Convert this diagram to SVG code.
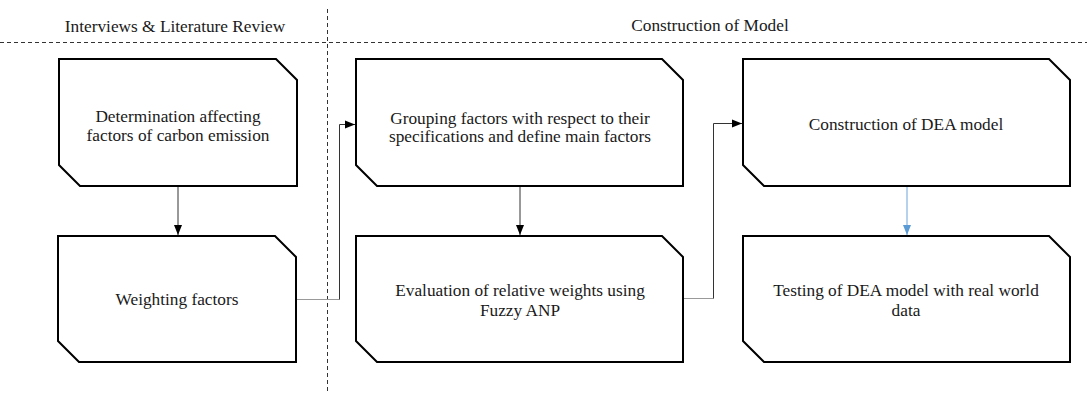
<svg xmlns="http://www.w3.org/2000/svg" width="1087" height="394" viewBox="0 0 1087 394">
<style>
.node{fill:#fff;stroke:#000;stroke-width:2;stroke-linejoin:miter}
.t{font-family:'Liberation Serif','DejaVu Serif',serif;font-size:17.3px;fill:#1a1a1a;text-anchor:middle}
.dash{stroke:#333;stroke-width:1;stroke-dasharray:4,3;fill:none}
.c{fill:none;stroke:#333;stroke-width:1}
.cg{fill:none;stroke:#999;stroke-width:1}
.cb{fill:none;stroke:#8fb8e3;stroke-width:1.3}
</style>
<defs>
<marker id="ah" markerUnits="userSpaceOnUse" markerWidth="10" markerHeight="10" viewBox="0 0 10 10" refX="10" refY="5" orient="auto">
<path d="M0,1 L10,5 L0,9 Z" fill="#000"/>
</marker>
<marker id="ahb" markerUnits="userSpaceOnUse" markerWidth="10" markerHeight="10" viewBox="0 0 10 10" refX="10" refY="5" orient="auto">
<path d="M0,1 L10,5 L0,9 Z" fill="#5b9bd5"/>
</marker>
</defs>
<g id="headers">
<line class="dash" x1="0" y1="42.5" x2="1087" y2="42.5"/>
<line class="dash" x1="327.5" y1="9" x2="327.5" y2="394"/>
<text class="t" x="175" y="32">Interviews &amp; Literature Review</text>
<text class="t" x="710" y="31">Construction of Model</text>
</g>
<g id="connectors">
<path class="c" d="M178,187 V235" marker-end="url(#ah)"/>
<path class="c" d="M520,187 V235" marker-end="url(#ah)"/>
<path class="cb" d="M907,187 V235" marker-end="url(#ahb)"/>
<path class="cg" d="M297,299.5 H339.5"/>
<path class="c" d="M339.5,299.5 V124.5 H355" marker-end="url(#ah)"/>
<path class="cg" d="M684,298.5 H713.5"/>
<path class="c" d="M713.5,298.5 V123.5 H742" marker-end="url(#ah)"/>
</g>
<g id="n1">
<path class="node" d="M59,59 H276 L297,80 V186 H80 L59,165 Z"/>
<text class="t" x="178" y="122">Determination affecting</text>
<text class="t" x="178" y="141">factors of carbon emission</text>
</g>
<g id="n2">
<path class="node" d="M58,236 H275 L296,257 V362 H79 L58,341 Z"/>
<text class="t" x="177" y="305">Weighting factors</text>
</g>
<g id="n3">
<path class="node" d="M356,59 H662 L683,80 V186 H377 L356,165 Z"/>
<text class="t" x="520" y="124">Grouping factors with respect to their</text>
<text class="t" x="520" y="142">specifications and define main factors</text>
</g>
<g id="n4">
<path class="node" d="M356,236 H662 L683,257 V362 H377 L356,341 Z"/>
<text class="t" x="520" y="296">Evaluation of relative weights using</text>
<text class="t" x="520" y="316">Fuzzy ANP</text>
</g>
<g id="n5">
<path class="node" d="M743,59 H1049 L1070,80 V186 H764 L743,165 Z"/>
<text class="t" x="906" y="130">Construction of DEA model</text>
</g>
<g id="n6">
<path class="node" d="M743,236 H1049 L1070,257 V362 H764 L743,341 Z"/>
<text class="t" x="906" y="296">Testing of DEA model with real world</text>
<text class="t" x="906" y="316">data</text>
</g>
</svg>
